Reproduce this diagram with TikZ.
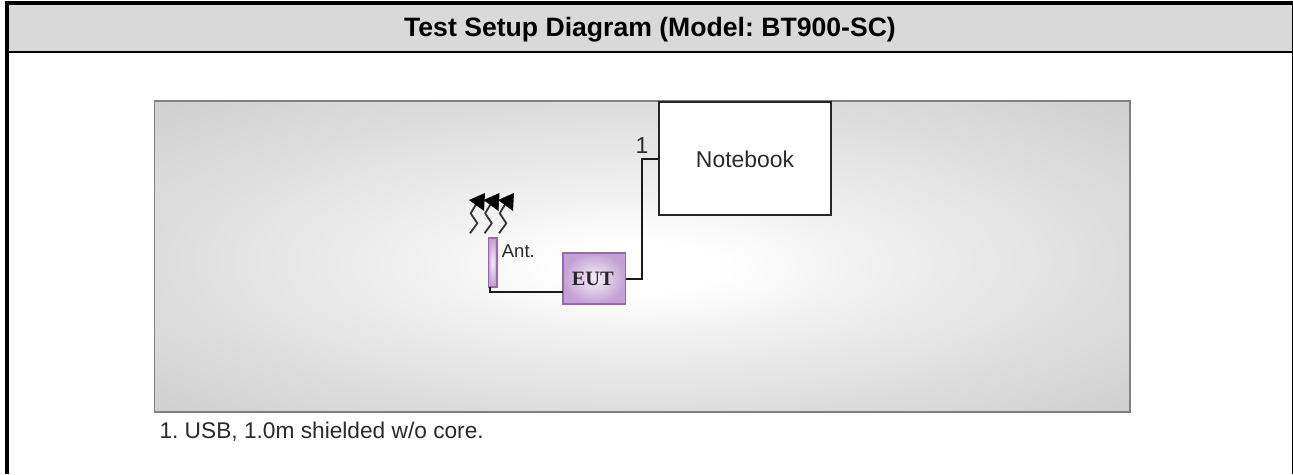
\documentclass[tikz,border=0pt]{standalone}
\usepackage{fontspec}
\setmainfont{Liberation Sans}
\newfontfamily\eutfont{Liberation Serif}
\frenchspacing
\pgfdeclareradialshading{panelglow}{\pgfpoint{0bp}{-2bp}}{
  color(0bp)=(white);
  color(4bp)=(white);
  color(12bp)=(white!94!black);
  color(25bp)=(white!86.5!black);
  color(36bp)=(white!81!black)}
\definecolor{eutedge}{HTML}{9A68AE}
\definecolor{eutfill}{HTML}{C4A0D3}
\definecolor{darktext}{HTML}{2A2A2A}
\tikzset{
  x=1pt,y=-1pt,
  framerule/.style={draw=black,line width=#1},
  wire/.style={draw=black!90,line width=2pt},
  devicebox/.style={draw=black!85,line width=2pt,fill=white,inner sep=0pt,minimum width=172pt,minimum height=113.5pt},
  purplebox/.style={draw=eutedge,line width=1.6pt,inner sep=0pt,inner color=white!85!eutfill,outer color=eutfill},
  label/.style={inner sep=0pt,text=darktext},
  zig/.style={draw=black!80,line width=1.8pt,line join=round}
}
\begin{document}
\begin{tikzpicture}
\useasboundingbox (0,0) rectangle (1293,474);
\fill[white] (0,0) rectangle (1293,474);
\fill[black!15] (7,3) rectangle (1292,52);
\draw[framerule=4pt] (7,474) -- (7,2.7) -- (1293,2.7);
\draw[framerule=3pt] (1293,2.7) -- (1293,474);
\draw[framerule=2.4pt] (7,52) -- (1293,52);
\node[inner sep=0pt,anchor=base,font=\bfseries\fontsize{26.6}{30}\selectfont] (title) at (650,36.7) {Test Setup Diagram (Model: BT900-SC)};
\path[shade,shading=panelglow] (154.5,101) rectangle (1130,412);
\draw[draw=black!50,line width=1.7pt] (154.5,101) rectangle (1130,412);
\node[devicebox] (notebook) at (744.6,158.7) {};
\node[label,anchor=base,font=\fontsize{22.9}{27}\selectfont] (nbtext) at (745,167.7) {Notebook};
\node[purplebox,minimum width=62.5pt,minimum height=51.5pt] (eut) at (594.3,278.5) {\hspace*{-3pt}\eutfont\bfseries\fontsize{20.4}{24}\selectfont\textcolor{black!85}{EUT}};
\node[purplebox,minimum width=8.4pt,minimum height=48.7pt] (ant) at (492.5,262.4) {};
\node[label,anchor=base west,font=\fontsize{18.5}{22}\selectfont] (anttext) at (501.7,257.3) {Ant.};
\node[label,anchor=base,font=\fontsize{23}{27}\selectfont] (one) at (642,153.3) {1};
\node[label,anchor=base west,font=\fontsize{22.7}{27}\selectfont] (note) at (159.3,438.3) {1. USB, 1.0m shielded w/o core.};
\coordinate (bend) at (642,200);
\coordinate (eutin) at (563,292);
\coordinate (antfoot) at (489.5,287);
\draw[wire] (eut.east) -| (bend) |- (notebook.west);
\draw[wire] (eutin) -| (antfoot);
\foreach \dx in {0,14.5,29}{
  \begin{scope}[xshift=\dx pt]
  \draw[zig] (470,233.3) -- (477.3,223.3) -- (470.7,213.3) -- (476.7,203.3);
  \fill[black] (469,200) -- (485,193) -- (484,211) -- cycle;
  \end{scope}
}
\end{tikzpicture}
\end{document}
